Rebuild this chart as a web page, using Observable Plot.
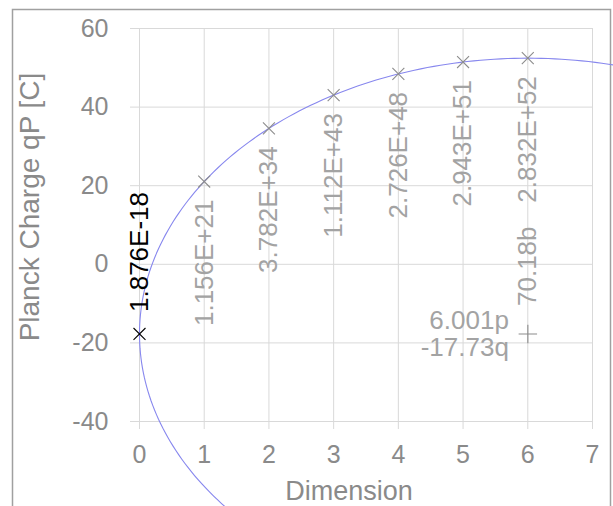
<!DOCTYPE html>
<html><head><meta charset="utf-8">
<script src="https://cdn.jsdelivr.net/npm/d3@7"></script>
<script src="https://cdn.jsdelivr.net/npm/@observablehq/plot@0.6"></script>
<style>body{margin:0;background:#fff} #chart svg{overflow:hidden;display:block}</style>
</head><body><div id="chart"></div>
<script>
// Data
const dimensions = [0, 1, 2, 3, 4, 5, 6];
const chargeLabels = ["1.876E-18", "1.156E+21", "3.782E+34", "1.112E+43", "2.726E+48", "2.943E+51", "2.832E+52"];
const log10Charge = [-17.73, 21.06, 34.58, 43.05, 48.44, 51.47, 52.45];
const xTicks = [0, 1, 2, 3, 4, 5, 6, 7];
const yTicks = [-40, -20, 0, 20, 40, 60];
// Fitted ellipse parameters shown on the chart (p, q, b)
const fitP = 6.001, fitQ = -17.73, fitB = 70.18;
const fitTextXY = "6.001p\n-17.73q";
const fitTextB = "70.18b";

const points = dimensions.map((d, i) => ({x: d, y: log10Charge[i], label: chargeLabels[i]}));
const firstPoint = points.slice(0, 1);
const otherPoints = points.slice(1);
// trend curve: ellipse centered at (p, q), semi-axes p (x) and b (y)
const curve = d3.range(0, 361, 1).map(deg => {
  const t = deg * Math.PI / 180;
  return {cx: fitP + fitP * Math.cos(t), cy: fitQ + fitB * Math.sin(t)};
});

const grey = "#8a8a8a", lightGrey = "#a3a3a3", gridC = "#d9d9d9";
const chart = Plot.plot({
  width: 613, height: 506,
  marginLeft: 139, marginRight: 21, marginTop: 28, marginBottom: 85,
  style: {fontFamily: "'Liberation Sans', Arial, sans-serif", background: "#fff"},
  x: {domain: [0, 7]},
  y: {domain: [-40, 60]},
  marks: [
    Plot.gridX(xTicks, {stroke: gridC, strokeOpacity: 1}),
    Plot.gridY(yTicks, {stroke: gridC, strokeOpacity: 1}),
    Plot.axisX(xTicks, {tickSize: 8, tickPadding: 16, stroke: gridC, fill: grey, fontSize: 25, tickFormat: d => String(d), label: null}),
    Plot.axisY(yTicks, {tickSize: 9, tickPadding: 22, stroke: gridC, fill: grey, fontSize: 25, tickFormat: d => String(d), label: null}),
    Plot.line(curve, {x: "cx", y: "cy", stroke: "#8787ee", strokeWidth: 1.1}),
    Plot.dot(otherPoints, {x: "x", y: "y", symbol: "times", r: 5.5, stroke: "#8c8c8c", strokeWidth: 1.1}),
    Plot.dot(firstPoint, {x: "x", y: "y", symbol: "times", r: 5.5, stroke: "#000", strokeWidth: 1.1}),
    Plot.dot([{x: fitP, y: fitQ}], {x: "x", y: "y", symbol: "plus", r: 6, stroke: "#8c8c8c", strokeWidth: 1.1}),
    Plot.text(firstPoint, {x: "x", y: "y", text: "label", rotate: -90, textAnchor: "start", lineAnchor: "middle", dy: -22, fill: "#000", fontSize: 26}),
    Plot.text(otherPoints, {x: "x", y: "y", text: "label", rotate: -90, textAnchor: "end", lineAnchor: "middle", dy: 18, fill: lightGrey, fontSize: 26}),
    Plot.text([{x: fitP, y: fitQ}], {x: "x", y: "y", text: () => fitTextB, rotate: -90, textAnchor: "start", lineAnchor: "middle", dy: -28, fill: lightGrey, fontSize: 26}),
    Plot.text([{x: fitP, y: fitQ}], {x: "x", y: "y", text: () => fitTextXY, textAnchor: "end", lineAnchor: "middle", lineHeight: 1.05, dx: -19, fill: lightGrey, fontSize: 26}),
    Plot.text(["Dimension"], {text: d => d, frameAnchor: "bottom", textAnchor: "middle", lineAnchor: "middle", dx: -17, dy: 70, fontSize: 27, fill: grey}),
    Plot.text(["Planck Charge qP [C]"], {text: d => d, frameAnchor: "left", rotate: -90, textAnchor: "middle", lineAnchor: "middle", dx: -109, dy: -18, fontSize: 28, fill: grey})
  ]
});

const svg = d3.select(chart);
svg.insert("rect", ":first-child")
  .attr("x", 12.5).attr("y", 9.5).attr("width", 598).attr("height", 600)
  .attr("fill", "none").attr("stroke", "#a0a0a0").attr("stroke-width", 1.5);
document.getElementById("chart").append(chart);
</script>
</body></html>
